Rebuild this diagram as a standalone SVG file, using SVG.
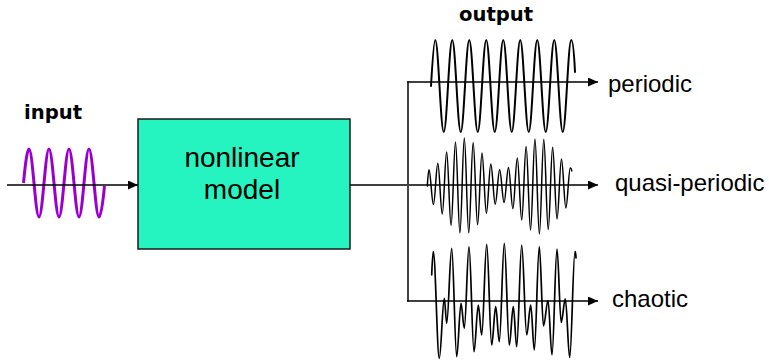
<svg xmlns="http://www.w3.org/2000/svg" width="769" height="362" viewBox="0 0 769 362">
<style>
.lbl{font-family:"Liberation Sans",Arial,sans-serif;font-size:24px;fill:#000}
.ttl{font-family:"DejaVu Sans",Verdana,sans-serif;font-weight:bold;font-size:19.6px;fill:#000}
.box{fill:#25F4C1;stroke:#1a1a1a;stroke-width:1.5}
.name{font-family:"Liberation Sans",Arial,sans-serif;font-size:28px;fill:#000;text-anchor:middle}
.conn{stroke:#000;stroke-width:1.5;fill:none}
.wave{fill:none;stroke:#000;stroke-linejoin:round;stroke-linecap:round}
.inwave{fill:none;stroke:#9A00CD;stroke-width:3;stroke-linejoin:round;stroke-linecap:butt}
</style>
<defs>
<marker id="arr" markerUnits="userSpaceOnUse" markerWidth="11" markerHeight="10" refX="10" refY="4.5" orient="auto">
<path d="M0,0 L10,4.5 L0,9 Z" fill="#000"/>
</marker>
</defs>
<rect width="769" height="362" fill="#fff"/>
<g id="input">
<text class="ttl" x="24" y="119">input</text>
<path class="inwave" d="M23.5,183 Q26.7,149 29,149 c3.63,0 6.37,68 10,68 c3.63,0 6.37,-68 10,-68 c3.63,0 6.37,68 10,68 c3.63,0 6.37,-68 10,-68 c3.63,0 6.37,68 10,68 c3.63,0 6.37,-68 10,-68 c3.63,0 6.37,68 10,68 Q101.5,217 104.5,186"/>
</g>
<g id="model">
<rect class="box" x="138" y="119" width="212" height="130"/>
<text class="name" x="242" y="167">nonlinear</text>
<text class="name" x="242" y="199">model</text>
</g>
<g id="connectors">
<line class="conn" x1="7" y1="185" x2="138" y2="185" marker-end="url(#arr)"/>
<line class="conn" x1="350" y1="185" x2="598" y2="185" marker-end="url(#arr)"/>
<line x1="408" y1="81.5" x2="408" y2="301.5" stroke="#444" stroke-width="2"/>
<line class="conn" x1="407" y1="82" x2="598" y2="82" marker-end="url(#arr)"/>
<line class="conn" x1="407" y1="301" x2="598" y2="301" marker-end="url(#arr)"/>
</g>
<g id="output">
<text class="ttl" x="459" y="21">output</text>
</g>
<g id="periodic">
<path class="wave" stroke-width="2" d="M431,86 Q433.7,40 435.25,40 c3.09,0 5.41,92 8.5,92 c3.09,0 5.41,-92 8.5,-92 c3.09,0 5.41,92 8.5,92 c3.09,0 5.41,-92 8.5,-92 c3.09,0 5.41,92 8.5,92 c3.09,0 5.41,-92 8.5,-92 c3.09,0 5.41,92 8.5,92 c3.09,0 5.41,-92 8.5,-92 c3.09,0 5.41,92 8.5,92 c3.09,0 5.41,-92 8.5,-92 c3.09,0 5.41,92 8.5,92 c3.09,0 5.41,-92 8.5,-92 c3.09,0 5.41,92 8.5,92 c3.09,0 5.41,-92 8.5,-92 c3.09,0 5.41,92 8.5,92 c3.09,0 5.41,-92 8.5,-92 q2.2,0 3.75,32"/>
<text class="lbl" x="608" y="92">periodic</text>
</g>
<g id="quasi-periodic">
<path class="wave" stroke-width="1.5" d="M427.3,186 Q428.3,169.7 429,169.7 C430.60,169.7 431.82,204.6 433.42,204.6 C435.02,204.6 436.23,163.3 437.83,163.3 C439.43,163.3 440.65,214.0 442.25,214.0 C443.85,214.0 445.06,152.1 446.66,152.1 C448.26,152.1 449.48,225.5 451.08,225.5 C452.68,225.5 453.89,141.9 455.49,141.9 C457.09,141.9 458.31,233.1 459.91,233.1 C461.51,233.1 462.72,138.0 464.32,138.0 C465.92,138.0 467.14,232.8 468.74,232.8 C470.34,232.8 471.55,142.5 473.15,142.5 C474.75,142.5 475.97,224.7 477.57,224.7 C479.17,224.7 480.38,153.0 481.98,153.0 C483.58,153.0 484.80,213.2 486.40,213.2 C488.00,213.2 489.21,164.0 490.81,164.0 C492.41,164.0 493.63,204.2 495.23,204.2 C496.83,204.2 498.04,169.8 499.64,169.8 C501.24,169.8 502.46,202.4 504.06,202.4 C505.66,202.4 506.87,167.4 508.47,167.4 C510.07,167.4 511.29,208.7 512.89,208.7 C514.49,208.7 515.70,157.9 517.30,157.9 C518.90,157.9 520.12,220.0 521.72,220.0 C523.32,220.0 524.53,146.4 526.13,146.4 C527.73,146.4 528.95,230.1 530.55,230.1 C532.15,230.1 533.36,138.9 534.96,138.9 C536.56,138.9 537.78,234.0 539.38,234.0 C540.98,234.0 542.19,139.3 543.79,139.3 C545.39,139.3 546.61,229.5 548.21,229.5 C549.81,229.5 551.02,147.3 552.62,147.3 C554.22,147.3 555.44,219.0 557.04,219.0 C558.64,219.0 559.85,158.9 561.45,158.9 C563.05,158.9 564.27,208.0 565.87,208.0 C567.47,208.0 568.68,167.9 570.28,167.9 Q571.3,167.9 571.8,171"/>
<text class="lbl" x="615" y="191">quasi-periodic</text>
</g>
<g id="chaotic">
<path class="wave" stroke-width="1.7" d="M431.7,275 Q432.6,251.7 433.3,251.7 C435.46,251.7 437.14,358.3 439.3,358.3 C441.1,358.3 442.5,298.3 444.3,298.3 C445.16,298.3 445.84,323.3 446.7,323.3 C448.5,323.3 449.9,248.3 451.7,248.3 C453.5,248.3 454.9,356.7 456.7,356.7 C458.25,356.7 459.45,303.3 461,303.3 C462.19,303.3 463.11,328.3 464.3,328.3 C465.99,328.3 467.31,246.7 469,246.7 C470.8,246.7 472.2,351.7 474,351.7 C475.55,351.7 476.75,305 478.3,305 C479.52,305 480.48,335 481.7,335 C483.5,335 484.9,244.3 486.7,244.3 C488.5,244.3 489.9,345 491.7,345 C493.14,345 494.26,306.7 495.7,306.7 C497,306.7 498,341.7 499.3,341.7 C501.1,341.7 502.5,243.3 504.3,243.3 C506.1,243.3 507.5,345 509.3,345 C510.74,345 511.86,306.7 513.3,306.7 C514.52,306.7 515.48,346.7 516.7,346.7 C518.5,346.7 519.9,245 521.7,245 C523.5,245 524.9,335 526.7,335 C528.14,335 529.26,305 530.7,305 C532,305 533,350 534.3,350 C536.1,350 537.5,246.7 539.3,246.7 C540.81,246.7 541.99,326 543.5,326 C545.12,326 546.38,300.5 548,300.5 C549.44,300.5 550.56,355 552,355 C553.8,355 555.2,249 557,249 C558.51,249 559.69,322.5 561.2,322.5 C562.68,322.5 563.82,298.8 565.3,298.8 C566.88,298.8 568.12,357.5 569.7,357.5 C571.6,357.5 573.1,251.7 575,251.7 Q575.8,251.7 576,258"/>
<text class="lbl" x="612" y="307">chaotic</text>
</g>
</svg>
